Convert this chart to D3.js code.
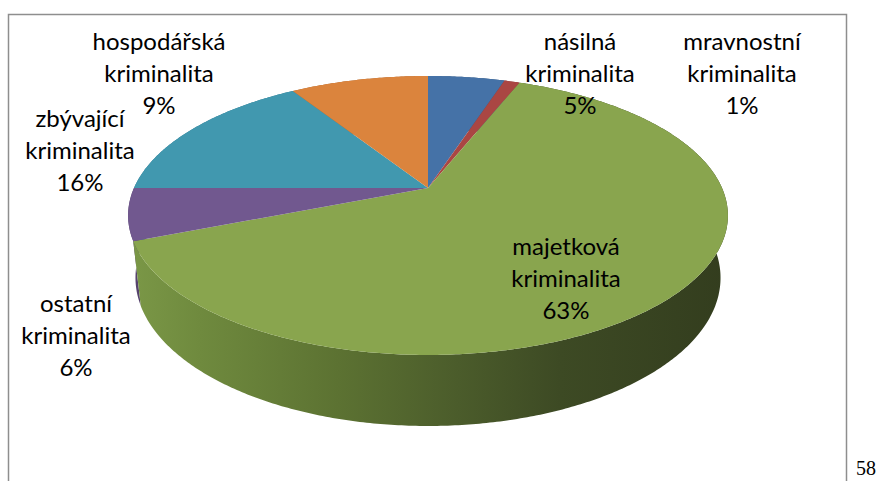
<!doctype html>
<html>
  <head>
    <meta charset="UTF-8">
    <title>kriminalita</title>
    <style>
      body { margin: 0; background: #fff; }
      .label { font-family: "Lato", "Open Sans", sans-serif; font-size: 24px; fill: #000; }
      .page { font-family: "Liberation Serif", "DejaVu Serif", serif; font-size: 20px; fill: #000; }
    </style>
  </head>
  <body>
    <svg id="chart" width="876" height="481"></svg>

    <script src="https://d3js.org/d3.v7.min.js"></script>
    <script>
      // data (percent shares, clockwise from 12 o'clock)
      const categories = ["násilná kriminalita", "mravnostní kriminalita", "majetková kriminalita",
                          "ostatní kriminalita", "zbývající kriminalita", "hospodářská kriminalita"];
      const values = [5, 1, 63, 6, 16, 9];
      const colors = ["#4572A7", "#AA4643", "#89A54E", "#71588F", "#4198AF", "#DB843D"];
      const sideColors = ["#35577f", "#7f3432", null, "#56436d", "#31748a", "#a86430"];

      // where each label block is centred (x) and where its first baseline sits (y)
      const labelPos = [[580, 50], [742, 50], [566, 255], [76, 312], [80, 127], [159, 50]];

      const svg = d3.select("#chart");

      // simple perspective camera for the 3d pie
      const cx = 428, cy = 188;
      const alpha = Math.asin(0.456);   // tilt
      const D = 4.52;                   // camera distance (radius units)
      const f = 1329;                   // focal length, px
      const thick = 0.24;               // pie height (radius units)

      function project(phi, y) {
        const X = Math.sin(phi), Z = Math.cos(phi);
        const v = Z * Math.sin(alpha) + y * Math.cos(alpha);
        const d = Z * Math.cos(alpha) - y * Math.sin(alpha);
        return [cx + f * X / (D + d), cy - f * v / (D + d)];
      }
      function centre(y) {
        const v = y * Math.cos(alpha), d = -y * Math.sin(alpha);
        return [cx, cy - f * v / (D + d)];
      }

      const pie = d3.pie().sort(null).value(d => d)
        .startAngle(0).endAngle(2 * Math.PI);
      const arcs = pie(values);

      function arcPoints(a0, a1, y) {
        const n = Math.max(2, Math.ceil((a1 - a0) / 0.01));
        return d3.range(n + 1).map(i => project(a0 + (a1 - a0) * i / n, y));
      }
      const line = d3.line();

      // gradient for the green wall
      const defs = svg.append("defs");
      const grad = defs.append("linearGradient")
        .attr("id", "greenSide")
        .attr("gradientUnits", "userSpaceOnUse")
        .attr("x1", 128).attr("x2", 728).attr("y1", 0).attr("y2", 0);
      [[0, "#7b9847"], [0.12, "#6f8a3e"], [0.35, "#5c7232"], [0.55, "#4b5c2b"],
       [0.72, "#3d4a24"], [1, "#333d1e"]].forEach(s =>
        grad.append("stop").attr("offset", s[0]).attr("stop-color", s[1]));

      // frame
      svg.append("rect")
        .attr("x", 8.5).attr("y", 14.5)
        .attr("width", 838).attr("height", 500)
        .attr("fill", "none")
        .attr("stroke", "#8e8e8e")
        .attr("stroke-width", 1.5);

      // outer walls, back ones first
      const walls = arcs.map((a, i) => ({ a, i }))
        .sort((p, q) => Math.cos((q.a.startAngle + q.a.endAngle) / 2) - Math.cos((p.a.startAngle + p.a.endAngle) / 2));
      svg.append("g").selectAll("path")
        .data(walls)
        .join("path")
          .attr("d", w => {
            const top = arcPoints(w.a.startAngle, w.a.endAngle, 0);
            const bot = arcPoints(w.a.startAngle, w.a.endAngle, -thick).reverse();
            return line(top.concat(bot)) + "Z";
          })
          .attr("fill", w => w.i === 2 ? "url(#greenSide)" : sideColors[w.i]);

      // top faces
      svg.append("g").selectAll("path")
        .data(arcs)
        .join("path")
          .attr("d", a => line([centre(0)].concat(arcPoints(a.startAngle, a.endAngle, 0))) + "Z")
          .attr("fill", (a, i) => colors[i]);

      // labels
      const total = d3.sum(values);
      const lab = svg.append("g").selectAll("text")
        .data(arcs)
        .join("text")
          .attr("class", "label")
          .attr("text-anchor", "middle")
          .attr("x", (a, i) => labelPos[i][0])
          .attr("y", (a, i) => labelPos[i][1]);
      lab.each(function (a, i) {
        const lines = categories[i].split(" ").concat([Math.round(a.value / total * 100) + "%"]);
        d3.select(this).selectAll("tspan")
          .data(lines)
          .join("tspan")
            .attr("x", labelPos[i][0])
            .attr("dy", (d, j) => j === 0 ? 0 : 32)
            .text(d => d);
      });

      // page number
      svg.append("text")
        .attr("class", "page")
        .attr("x", 856).attr("y", 475)
        .text("58");
    </script>
  </body>
</html>
